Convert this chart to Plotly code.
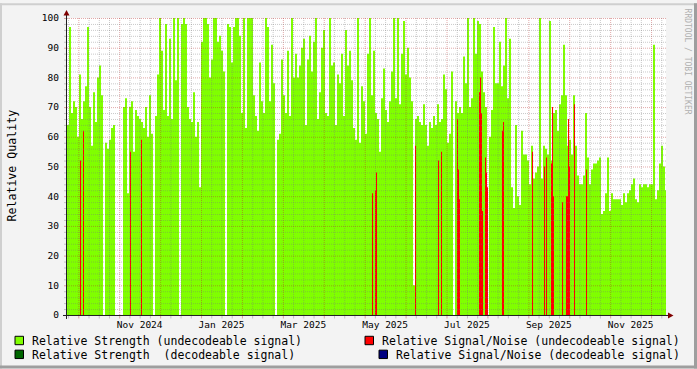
import math
import pandas as pd
import plotly.graph_objects as go

# ---------------- data ----------------
START = pd.Timestamp("2024-10-05 17:08:00")   # start of first sample
STEP_S = 126714                               # seconds per sample
X_RANGE = ["2024-10-05 17:08:00", "2025-12-18 23:02:00"]

strength_undecodeable = [
    64, 97, 68, 72, 70, 60, 81, 66, 72, 77, 97, 70, 57, 75, 65, 80, 84, 74, None, 58,
    56, 59, 63, 64, None, None, None, None, 70, 73, 41, 70, 72, 55, 69, 67, 66, 65, 63, 70,
    60, 74, 61, None, 67, 81, 100, 89, 69, 98, 67, 93, 66, 100, 79, 100, None, 98, 100, 98,
    70, 66, 65, 75, 60, 65, 43, 92, 100, 100, 98, 80, 86, 100, 100, 92, 94, 89, 82, None,
    98, 97, 85, 97, 100, 100, 94, 68, 100, 63, 100, 100, 100, 74, 67, 62, 85, 72, 68, 100,
    97, 72, 91, 78, None, 59, 61, 86, 74, 68, 89, 67, 100, 80, 88, 80, 84, 90, 93, 64,
    86, 94, 82, 92, 100, 66, 75, 90, 96, 68, 67, 100, 84, 85, 64, 81, 78, 88, 67, 96,
    84, 89, 79, 63, 59, 100, 58, 77, 72, 61, 88, 100, 74, 89, 68, 66, 55, 73, 83, 69,
    65, 72, 82, 100, 73, 100, 71, 88, 99, 81, 90, 80, 72, 10, 66, 67, 65, 64, 71, 64,
    57, 65, 63, 67, 64, 71, 65, 66, 81, 76, 58, 61, 82, None, 72, 68, 70, 68, 87, 78,
    100, 70, 73, 100, 88, 99, 98, 82, 75, 70, None, 60, 69, 97, 78, 78, 92, 77, 84, 100,
    73, 93, 43, 36, 64, 40, 37, 62, 54, 54, 52, 44, 57, 46, 48, 50, 100, 46, 57, 56,
    54, 99, 52, 68, 69, 62, 71, 74, 91, 74, 57, 59, 54, 74, 57, 47, 44, 44, 47, 68,
    53, 44, 49, 51, 51, 52, 53, 34, 35, 41, 53, 35, 41, 39, 39, 39, 39, 37, 41, 38,
    41, 42, 44, 46, 39, 38, 44, 43, 44, 44, 43, 44, 44, 91, 39, 42, 51, 57, 50, 42,
]

snr_undecodeable_times = [
    "2024-10-15 14:38", "2024-10-17 19:26", "2024-11-21 06:43", "2024-11-29 08:24",
    "2025-05-17 18:00", "2025-05-19 22:48", "2025-05-20 16:19", "2025-06-18 06:43",
    "2025-07-05 03:36", "2025-07-07 08:24", "2025-07-19 01:55", "2025-07-19 19:26",
    "2025-07-20 13:12", "2025-08-04 05:02", "2025-08-04 22:48", "2025-08-05 16:19",
    "2025-08-06 09:50", "2025-08-08 14:38", "2025-08-09 08:24", "2025-08-10 01:55",
    "2025-08-21 01:55", "2025-08-21 19:26", "2025-09-12 01:55", "2025-09-20 21:07",
    "2025-09-22 08:24", "2025-09-26 00:14", "2025-09-26 18:00", "2025-09-27 11:31",
    "2025-10-04 01:55", "2025-10-07 00:14", "2025-10-07 18:00", "2025-10-08 11:31",
    "2025-10-09 05:02", "2025-10-12 21:07", "2025-10-21 16:19",
]
snr_undecodeable = [
    52, 62, 55, 59, 41, 42, 48, 57, 52, 55, 66, 49, 39, 75, 80, 68, 35, 53, 48, 43,
    62, 65, 55, 50, 53, 51, 70, 40, 38, 40, 40, 66, 50, 71, 49,
]
SNR_SAMPLE_S = 63357          # one pixel column
strength_decodeable = []      # no samples in this period
snr_decodeable = []           # no samples in this period

label_grid_dates = ["2024-11-13", "2025-01-12", "2025-03-13", "2025-05-12",
                    "2025-07-11", "2025-09-09", "2025-11-08"]
label_texts = ["Nov 2024", "Jan 2025", "Mar 2025", "May 2025",
               "Jul 2025", "Sep 2025", "Nov 2025"]
LABEL_SPAN_DAYS = 15  # labels are centred on their 30-day interval
Y_TICKS = list(range(0, 101, 10))

# RRDtool style grid: minor/major intervals
GRID_X_MINOR_DAYS, GRID_X_MAJOR_DAYS = 7.5, 30
GRID_Y_MINOR, GRID_Y_MAJOR = 2, 10

legend_names = ["Relative Strength (undecodeable signal)",
                "Relative Strength  (decodeable signal)",
                "Relative Signal/Noise (undecodeable signal)",
                "Relative Signal/Noise (decodeable signal)"]

# ---------------- style ----------------
C_GREEN = "#80FF00"
C_DGREEN = "#006600"
C_RED = "#FF0000"
C_BLUE = "#000080"
C_BACK = "#F3F3F3"
GRID = "rgba(120,120,120,0.40)"
MGRID = "rgba(180,40,40,0.40)"
FONT = "DejaVu Sans Mono"

W, H = 697, 369
L, R, T, B = 67, 31, 15, 54
PW, PH = W - L - R, H - T - B


def px(x):
    return (x - L) / PW


def py(y):
    return (T + PH - y) / PH


def area_polygons(spans):
    """spans: list of (t0, t1, value or None) -> polygon coords (RRD AREA)."""
    xs, ys = [], []
    seg = []

    def flush():
        if seg:
            xs.append(seg[0][0]); ys.append(0)
            for a, b, v in seg:
                xs.extend([a, b]); ys.extend([v, v])
            xs.append(seg[-1][1]); ys.append(0)
            xs.append(None); ys.append(None)
            seg.clear()

    for a, b, v in spans:
        if v is None:
            flush()
        else:
            if seg and seg[-1][1] != a:
                flush()
            seg.append((a, b, v))
    flush()
    return xs, ys


step = pd.Timedelta(seconds=STEP_S)
green_spans = [(START + step * i, START + step * (i + 1), v)
               for i, v in enumerate(strength_undecodeable)]
gx, gy = area_polygons(green_spans)

half = pd.Timedelta(seconds=SNR_SAMPLE_S / 2)
red_spans = []
for t, v in zip(pd.to_datetime(snr_undecodeable_times), snr_undecodeable):
    red_spans.append((t - half, t + half, v))
    red_spans.append((t + half, t + half, None))
rx, ry = area_polygons(red_spans)

fig = go.Figure()
fig.add_trace(go.Scatter(x=gx, y=gy, mode="lines", fill="toself", fillcolor=C_GREEN,
                         line=dict(width=0, color=C_GREEN), hoverinfo="skip",
                         name=legend_names[0], showlegend=False))
fig.add_trace(go.Scatter(x=[], y=strength_decodeable, mode="lines", fill="toself",
                         fillcolor=C_DGREEN, line=dict(width=0),
                         name=legend_names[1], showlegend=False))
fig.add_trace(go.Scatter(x=rx, y=ry, mode="lines", fill="toself", fillcolor=C_RED,
                         line=dict(width=0, color=C_RED), hoverinfo="skip",
                         name=legend_names[2], showlegend=False))
fig.add_trace(go.Scatter(x=[], y=snr_decodeable, mode="lines", fill="toself",
                         fillcolor=C_BLUE, line=dict(width=0),
                         name=legend_names[3], showlegend=False))

tickvals = [pd.Timestamp(d) + pd.Timedelta(days=LABEL_SPAN_DAYS) for d in label_grid_dates]

fig.update_layout(
    width=W, height=H, margin=dict(l=L, r=R, t=T, b=B, pad=0),
    paper_bgcolor=C_BACK, plot_bgcolor="rgba(0,0,0,0)", showlegend=False,
    font=dict(family=FONT, size=10, color="#000000"),
    xaxis=dict(type="date", range=X_RANGE, tickmode="array", tickvals=tickvals,
               ticktext=label_texts, showgrid=False, zeroline=False, showline=False,
               ticks="", tickfont=dict(family=FONT, size=9.5), ticklabelstandoff=2),
    yaxis=dict(range=[0, 100], tickmode="array", tickvals=Y_TICKS, showgrid=False,
               zeroline=False, showline=False, ticks="",
               tickfont=dict(family=FONT, size=9.5), ticklabelstandoff=7),
)

# ---- grid drawn on top of the data (RRDtool draws its grid over the graph) ----
t_left, t_right = pd.Timestamp(X_RANGE[0]), pd.Timestamp(X_RANGE[1])
span_s = (t_right - t_left).total_seconds()
half_px = 0.5 / PW
epoch = pd.Timestamp("1970-01-01")


def tx(t):
    return (t - t_left).total_seconds() / span_s


shapes = []
shapes.append(dict(type="rect", xref="paper", yref="paper", x0=0, x1=1, y0=0, y1=1,
                   fillcolor="#FFFFFF", line=dict(width=0), layer="below"))

d0 = (t_left - epoch).total_seconds() / 86400
d1 = (t_right - epoch).total_seconds() / 86400
for k in range(math.ceil(d0 / GRID_X_MINOR_DAYS), math.floor(d1 / GRID_X_MINOR_DAYS) + 1):
    day = k * GRID_X_MINOR_DAYS
    major = abs(day / GRID_X_MAJOR_DAYS - round(day / GRID_X_MAJOR_DAYS)) < 1e-9
    xx = tx(epoch + pd.Timedelta(days=day)) + half_px
    col = MGRID if major else GRID
    shapes.append(dict(type="line", xref="paper", yref="paper", x0=xx, x1=xx, y0=0, y1=1,
                       line=dict(color=col, width=1, dash="1px,1px"), layer="above"))
    shapes.append(dict(type="line", xref="paper", yref="paper", x0=xx, x1=xx,
                       y0=py(316), y1=py(318.5), line=dict(color=col, width=1), layer="above"))

for v in range(0, 101, GRID_Y_MINOR):
    if v == 0:
        continue
    major = v % GRID_Y_MAJOR == 0
    yy = v / 100 - 0.5 / PH
    col = MGRID if major else GRID
    shapes.append(dict(type="line", xref="paper", yref="paper", x0=0, x1=1, y0=yy, y1=yy,
                       line=dict(color=col, width=1, dash="1px,1px"), layer="above"))
for v in range(0, 101, GRID_Y_MINOR):
    major = v % GRID_Y_MAJOR == 0
    yy = v / 100 - 0.5 / PH
    shapes.append(dict(type="line", xref="paper", yref="paper", x0=px(64), x1=px(66),
                       y0=yy, y1=yy, line=dict(color=MGRID if major else GRID, width=1),
                       layer="above"))

# 3-D frame shading
shapes += [
    dict(type="rect", xref="paper", yref="paper", x0=px(0), x1=px(W), y0=py(0), y1=py(2),
         fillcolor="#CFCFCF", line=dict(width=0), layer="above"),
    dict(type="rect", xref="paper", yref="paper", x0=px(0), x1=px(2), y0=py(0), y1=py(H),
         fillcolor="#CFCFCF", line=dict(width=0), layer="above"),
    dict(type="rect", xref="paper", yref="paper", x0=px(0), x1=px(W), y0=py(H - 3), y1=py(H),
         fillcolor="#9E9E9E", line=dict(width=0), layer="above"),
    dict(type="rect", xref="paper", yref="paper", x0=px(W - 3), x1=px(W), y0=py(0), y1=py(H),
         fillcolor="#9E9E9E", line=dict(width=0), layer="above"),
]
# axes with arrows
shapes += [
    dict(type="line", xref="paper", yref="paper", x0=px(63), x1=px(669), y0=py(315.5), y1=py(315.5),
         line=dict(color="#202020", width=1), layer="above"),
    dict(type="line", xref="paper", yref="paper", x0=px(66.5), x1=px(66.5), y0=py(319), y1=py(11),
         line=dict(color="#202020", width=1), layer="above"),
    dict(type="path", xref="paper", yref="paper",
         path=f"M {px(668)},{py(312.5)} L {px(673.5)},{py(315.5)} L {px(668)},{py(318.5)} Z",
         fillcolor="#800000", line=dict(width=0), layer="above"),
    dict(type="path", xref="paper", yref="paper",
         path=f"M {px(63.5)},{py(12.5)} L {px(66.5)},{py(7)} L {px(69.5)},{py(12.5)} Z",
         fillcolor="#800000", line=dict(width=0), layer="above"),
]
# legend swatches
swatches = [(15, 336.5, C_GREEN), (15, 350.5, C_DGREEN), (365, 336.5, C_RED), (379, 350.5, C_BLUE)]
for x0, y0, col in swatches:
    shapes.append(dict(type="rect", xref="paper", yref="paper", x0=px(x0), x1=px(x0 + 8.5),
                       y0=py(y0 + 8.5), y1=py(y0), fillcolor=col,
                       line=dict(color="#000000", width=1), layer="above"))
fig.update_layout(shapes=shapes)

ann = []
legend_pos = [(30, 341), (30, 355), (380, 341), (394, 355)]
for (x0, y0), name in zip(legend_pos, legend_names):
    ann.append(dict(x=px(x0), y=py(y0), xref="paper", yref="paper", text=name.replace(" ", "&nbsp;"),
                    showarrow=False, xanchor="left", yanchor="middle",
                    font=dict(family=FONT, size=11.5, color="#000000")))
ann.append(dict(x=px(12), y=py(164), xref="paper", yref="paper", text="Relative&nbsp;Quality",
                showarrow=False, textangle=-90, xanchor="center", yanchor="middle",
                font=dict(family=FONT, size=11.6, color="#000000")))
ann.append(dict(x=px(687), y=py(59), xref="paper", yref="paper", text="RRDTOOL&nbsp;/&nbsp;TOBI&nbsp;OETIKER",
                showarrow=False, textangle=90, xanchor="center", yanchor="middle",
                font=dict(family=FONT, size=8, color="#B0B0B0")))
fig.update_layout(annotations=ann)

fig.write_html("out.html")
